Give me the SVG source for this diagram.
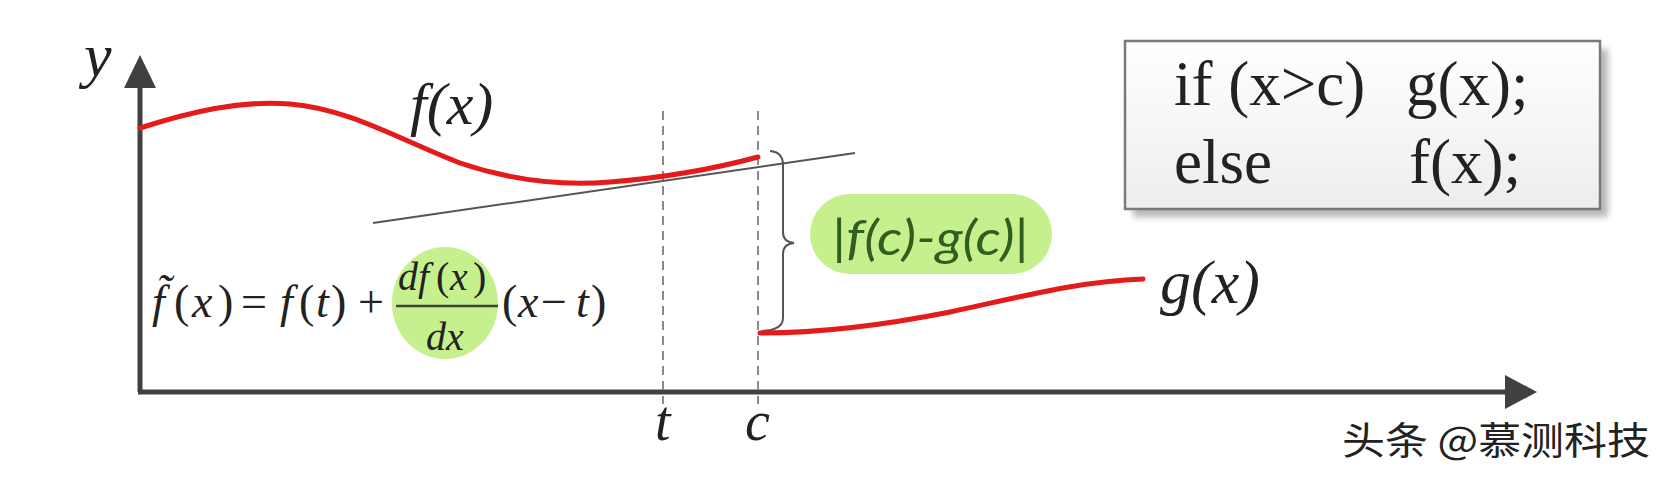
<svg xmlns="http://www.w3.org/2000/svg" width="1664" height="480" viewBox="0 0 1664 480">
<defs>
<style>
.ax{stroke:#404040;stroke-width:5;fill:none}
.arr{fill:#404040}
.dash{stroke:#8a8a8a;stroke-width:2;stroke-dasharray:9 6;fill:none}
.curve{stroke:#e41b1b;stroke-width:5;fill:none;stroke-linecap:round}
.thin{stroke:#555;stroke-width:2;fill:none}
.ser{font-family:"Liberation Serif","Times New Roman",serif;fill:#222}
.it{font-style:italic}
</style>
<linearGradient id="boxg" x1="0" y1="0" x2="0" y2="1">
<stop offset="0" stop-color="#ffffff"/>
<stop offset="1" stop-color="#ededed"/>
</linearGradient>
<filter id="sh" x="-10%" y="-20%" width="130%" height="150%">
<feGaussianBlur stdDeviation="3"/>
</filter>
</defs>
<rect width="1664" height="480" fill="#ffffff"/>

<g id="axes">
<line class="ax" x1="140" y1="392" x2="140" y2="86"/>
<polygon class="arr" points="140,55 124,88 156,88"/>
<line class="ax" x1="138" y1="392" x2="1506" y2="392"/>
<polygon class="arr" points="1537,392 1505,375 1505,409"/>
<text class="ser it" x="84" y="76" font-size="62">y</text>
</g>

<g id="guides">
<line class="dash" x1="663" y1="111" x2="663" y2="404"/>
<line class="dash" x1="758" y1="111" x2="758" y2="404"/>
<text class="ser it" x="655" y="440" font-size="56">t</text>
<text class="ser it" x="745" y="440" font-size="56">c</text>
</g>

<g id="connectors">
<path class="thin" d="M373,223 L855,153"/>
<path class="thin" d="M770,151 Q783,152 783,165 L783,232 Q783,242 794,243 Q783,244 783,254 L783,318 Q783,330 762,331"/>
</g>

<g id="f-curve">
<path class="curve" d="M140,128 C190,112 240,100 290,104 C350,109 400,140 460,163 C510,180 560,186 610,182 C660,178 710,170 758,157"/>
<text class="ser it" x="410" y="124" font-size="60">f(x)</text>
</g>

<g id="g-curve">
<path class="curve" d="M760,333 C820,333 880,326 950,312 C1020,297 1080,281 1143,279"/>
<text class="ser it" x="1160" y="303" font-size="62">g(x)</text>
</g>

<g id="diff-label">
<rect x="810" y="194" width="242" height="80" rx="40" fill="#c6f08e"/>
<text x="832" y="255" font-size="48" font-family="Lato, 'Open Sans', sans-serif" font-style="italic" fill="#2f5e1e" textLength="197" lengthAdjust="spacingAndGlyphs">|f(c)-g(c)|</text>
</g>

<g id="formula">
<ellipse cx="445" cy="303" rx="53" ry="56" fill="#c6f08e"/>
<text class="ser" y="317" font-size="46" fill="#333"><tspan class="it" x="152">f̃</tspan><tspan x="174">(</tspan><tspan class="it" x="192">x</tspan><tspan x="218">)</tspan><tspan x="241">=</tspan><tspan class="it" x="280">f</tspan><tspan x="299">(</tspan><tspan class="it" x="316">t</tspan><tspan x="331">)</tspan><tspan x="358">+</tspan><tspan x="502">(</tspan><tspan class="it" x="518">x</tspan><tspan x="541">−</tspan><tspan class="it" x="576">t</tspan><tspan x="591">)</tspan></text>
<text class="ser" y="290" font-size="40" fill="#333"><tspan class="it" x="398">df</tspan><tspan x="436">(</tspan><tspan class="it" x="450">x</tspan><tspan x="473">)</tspan></text>
<line x1="396" y1="306" x2="498" y2="306" stroke="#3a4a30" stroke-width="2.5"/>
<text class="ser it" x="426" y="350" font-size="40" fill="#333">dx</text>
</g>

<g id="code-box">
<rect x="1133" y="49" width="475" height="168" fill="#b8b8b8" filter="url(#sh)"/>
<rect x="1125" y="41" width="475" height="168" fill="url(#boxg)" stroke="#7a7a7a" stroke-width="2.5"/>
<text class="ser" x="1174" y="105" font-size="63">if (x&gt;c)</text>
<text class="ser" x="1406" y="105" font-size="63">g(x);</text>
<text class="ser" x="1174" y="183" font-size="63">else</text>
<text class="ser" x="1409" y="183" font-size="63">f(x);</text>
</g>

<g id="watermark">
<text x="1342" y="454" font-size="38" font-family="'Noto Sans CJK SC', sans-serif" fill="#222" textLength="308" lengthAdjust="spacingAndGlyphs">头条 @慕测科技</text>
</g>
</svg>
